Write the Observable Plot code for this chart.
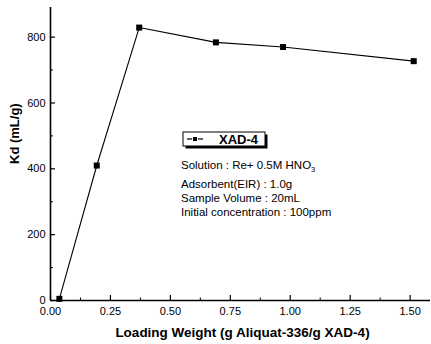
<!DOCTYPE html>
<html>
<head>
<meta charset="utf-8">
<script src="https://cdn.jsdelivr.net/npm/d3@7"></script>
<script src="https://cdn.jsdelivr.net/npm/@observablehq/plot@0.6"></script>
<style>
  html, body { margin: 0; padding: 0; background: #fff; }
  #chart { width: 431px; height: 344px; }
  svg { font-family: "Liberation Sans", Arial, sans-serif; }
</style>
</head>
<body>
<div id="chart"></div>
<script>
// Data
const loading = [0.037, 0.193, 0.37, 0.69, 0.97, 1.515];
const kd = [5, 410, 829, 784, 770, 727];
const seriesName = "XAD-4";
const xTicks = [0, 0.25, 0.5, 0.75, 1.0, 1.25, 1.5];
const xMinor = [0.125, 0.375, 0.625, 0.875, 1.125, 1.375];
const yTicks = [0, 200, 400, 600, 800];
const yMinor = [100, 300, 500, 700];
const xTitle = "Loading Weight (g Aliquat-336/g XAD-4)";
const yTitle = "Kd (mL/g)";
const notes = ["Adsorbent(EIR) : 1.0g", "Sample Volume : 20mL", "Initial concentration : 100ppm"];

const data = loading.map((x, i) => ({x, y: kd[i]}));

const xDomain = [0, 1.585];
const yDomain = [0, 890];
const W = 431, H = 344, mL = 50, mR = 1, mT = 7, mB = 44;
const pxX = (W - mL - mR) / (xDomain[1] - xDomain[0]);
const pxY = (H - mT - mB) / (yDomain[1] - yDomain[0]);

const plot = Plot.plot({
  width: W,
  height: H,
  marginLeft: mL,
  marginRight: mR,
  marginTop: mT,
  marginBottom: mB,
  style: {fontFamily: "'Liberation Sans', Arial, sans-serif", background: "#fff", color: "#000"},
  x: {domain: xDomain},
  y: {domain: yDomain},
  marks: [
    Plot.axisX(xTicks, {tickSize: 0, tickPadding: 7, tickFormat: d3.format(".2f"), fontSize: 11, label: null}),
    Plot.axisY(yTicks, {tickSize: 0, tickPadding: 5, tickFormat: d3.format("d"), fontSize: 11, label: null}),
    // inward ticks
    Plot.ruleY(yTicks, {y: d => d, x1: 0, x2: 5 / pxX, stroke: "#000", strokeWidth: 1.2}),
    Plot.ruleY(yMinor, {y: d => d, x1: 0, x2: 3 / pxX, stroke: "#000", strokeWidth: 1}),
    Plot.ruleX(xTicks, {x: d => d, y1: 0, y2: 5 / pxY, stroke: "#000", strokeWidth: 1.2}),
    Plot.ruleX(xMinor, {x: d => d, y1: 0, y2: 2.5 / pxY, stroke: "#000", strokeWidth: 1}),
    // axis lines
    Plot.ruleX([0], {stroke: "#000", strokeWidth: 1.6}),
    Plot.ruleY([0], {stroke: "#000", strokeWidth: 1.6}),
    // series
    Plot.line(data, {x: "x", y: "y", stroke: "#000", strokeWidth: 1.1}),
    Plot.dot(data, {x: "x", y: "y", symbol: "square", r: 3.4, fill: "#000", stroke: "none"}),
    // titles
    Plot.text([xTitle], {frameAnchor: "bottom", dy: 36, dx: 2, lineAnchor: "bottom", fontSize: 13.5, fontWeight: "bold", fill: "#000"}),
    Plot.text([yTitle], {frameAnchor: "left", rotate: -90, dx: -32, dy: 10, lineAnchor: "bottom", fontSize: 13, fontWeight: "bold", fill: "#000"})
  ]
});

document.getElementById("chart").appendChild(plot);

// Legend box and annotation text
const svg = d3.select(plot);
const g = svg.append("g").attr("class", "legend").attr("text-anchor", "start");
g.append("rect").attr("x", 185.5).attr("y", 134.5).attr("width", 82).attr("height", 14).attr("fill", "#000");
g.append("rect").attr("x", 183).attr("y", 132).attr("width", 82).attr("height", 14).attr("fill", "#fff").attr("stroke", "#000").attr("stroke-width", 1);
g.append("line").attr("x1", 187).attr("x2", 192).attr("y1", 139).attr("y2", 139).attr("stroke", "#000").attr("stroke-width", 1.2);
g.append("line").attr("x1", 198).attr("x2", 203).attr("y1", 139).attr("y2", 139).attr("stroke", "#000").attr("stroke-width", 1.2);
g.append("rect").attr("x", 193).attr("y", 137).attr("width", 4).attr("height", 4).attr("fill", "#000");
g.append("text").attr("x", 219).attr("y", 143.5).attr("font-size", 13).attr("font-weight", "bold").attr("fill", "#000").text(seriesName);

const t1 = g.append("text").attr("x", 181).attr("y", 169).attr("font-size", 11.5).attr("fill", "#000");
t1.append("tspan").text("Solution : Re+ 0.5M HNO");
t1.append("tspan").attr("font-size", 7.5).attr("dy", 2.5).text("3");
const baselines = [188, 202, 216];
notes.forEach((s, i) => {
  g.append("text").attr("x", 181).attr("y", baselines[i]).attr("font-size", 11.5).attr("fill", "#000").text(s);
});
</script>
</body>
</html>
